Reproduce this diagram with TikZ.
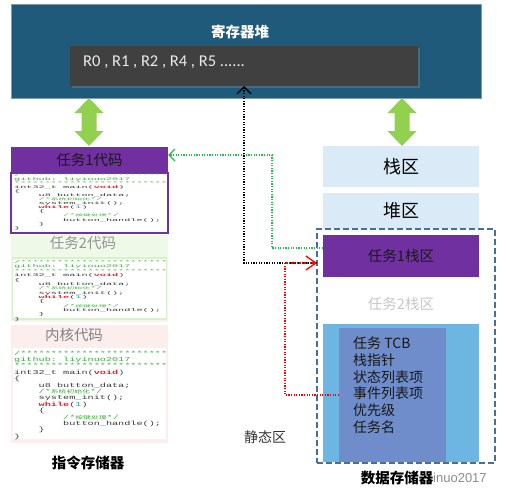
\documentclass[tikz,border=0pt]{standalone}
\usepackage{fontspec}
\usepackage{graphicx}
\setmainfont{Noto Sans CJK SC}
\newfontfamily\cjk{Noto Sans CJK SC}
\newfontfamily\latf{Carlito}
\newfontfamily\wmf{Liberation Sans}
\setmonofont{Liberation Mono}
\usetikzlibrary{arrows.meta,shadows,calc}
\definecolor{topblue}{HTML}{1F5A7A}
\definecolor{regbg}{HTML}{404040}
\definecolor{purp}{HTML}{7030A0}
\definecolor{lblue}{HTML}{DAEAF7}
\definecolor{stat}{HTML}{6DB6E2}
\definecolor{tcbc}{HTML}{6F8DCB}
\definecolor{dashc}{HTML}{44719C}
\definecolor{agreen}{HTML}{92D050}
\definecolor{gdotc}{HTML}{1FBF4A}
\definecolor{t2bg}{HTML}{EEF9E8}
\definecolor{t2bd}{HTML}{D8F0CC}
\definecolor{kbg}{HTML}{FDEEEE}
\definecolor{ccom}{HTML}{3DAA3A}
\definecolor{ckey}{HTML}{E8202A}
\definecolor{cnum}{HTML}{2A8FBF}
\definecolor{ctext}{HTML}{3A3A3A}
\newcommand\ind{\phantom{0000}}
\newcommand\cjksm{\cjk\fontsize{4.6}{6.4}\selectfont}
\newcommand\codefont{\fontsize{6}{6.4}\selectfont\ttfamily\color{ctext}}
\newcommand\codeblk{%
\begin{tabular}[t]{@{}l@{}}
\textcolor{ccom}{/************************}\\
\textcolor{ccom}{github: liyinuo2017}\\
\textcolor{ccom}{*************************}\\
int32\_t main(\textcolor{ckey}{\textbf{void}})\\
\{\\
\ind u8 button\_data;\\
\ind\textcolor{ccom}{/*{\cjksm 系统初始化}*/}\\
\ind system\_init();\\
\ind\textcolor{ckey}{\textbf{while}}(\textcolor{cnum}{1})\\
\ind\{\\
\ind\ind\textcolor{ccom}{/*{\cjksm 按键处理}*/}\\
\ind\ind button\_handle();\\
\ind\}\\
\}
\end{tabular}}
\tikzset{
  rbox/.style={inner sep=0pt, outer sep=0pt, minimum width=#1},
  lbl/.style={inner sep=0pt, font=\fontsize{14}{16}\selectfont},
  codeblock/.style={inner sep=0pt, anchor=base west},
  dotline/.style={line width=1.3pt, dash pattern=on 1.3pt off 1.3pt},
  gdot/.style={dotline, gdotc, -{Straight Barb[length=6pt,width=12pt,line width=1.3pt]}},
  kdot/.style={dotline, black, -{Straight Barb[length=7pt,width=14pt,line width=1.3pt]}},
  rdot/.style={dotline, red, -{Straight Barb[length=10pt,width=14pt,line width=1.3pt]}},
  dashbox/.style={draw=dashc, line width=1.8pt, dash pattern=on 6pt off 3pt},
  dblarrow/.pic={\fill[agreen] (0,0) -- (14.5,15) -- (7.5,15) -- (7.5,33) -- (14.5,33) -- (0,48) -- (-14.5,33) -- (-7.5,33) -- (-7.5,15) -- (-14.5,15) -- cycle;}
}
\begin{document}
\begin{tikzpicture}[x=1pt,y=-1pt]
\useasboundingbox (0,0) rectangle (506,495);
\fill[white] (0,0) rectangle (506,495);
% register file
\node[rbox=470pt, minimum height=94pt, fill=topblue, draw=topblue!60!white, line width=0.6pt] (top) at (246,51) {};
\node[lbl, text=white, font=\fontsize{14.5}{16}\selectfont\bfseries] (title) at (240,32) {寄存器堆};
\node[rbox=348pt, minimum height=40pt, fill=regbg, drop shadow={shadow xshift=2pt, shadow yshift=-2pt, opacity=0.45}] (reg) at (244,66) {};
\node[inner sep=0pt, anchor=west, text=white!92!black, font=\latf\fontsize{16.5}{18}\selectfont] (regtxt) at (83,62) {R0 , R1 , R2 , R4 , R5 ......};
% green double arrows
\pic at (89,98) {dblarrow};
\pic at (402,98) {dblarrow};
% task 1 code
\node[rbox=157pt, minimum height=60pt, fill=white, draw=purp, line width=2pt] (t1b) at (89.5,203) {};
\node[rbox=157pt, minimum height=26pt, fill=purp, text=black!90, font=\fontsize{14.5}{16}\selectfont] (t1h) at (89.5,160) {任务1代码};
\node[codeblock] (t1c) at (14,176) {\scalebox{1.7}[0.64]{\codefont\codeblk}};
% task 2 code
\node[rbox=157pt, minimum height=87pt, fill=t2bg] (t2) at (89.5,278.5) {};
\node[rbox=154pt, minimum height=61pt, fill=white, draw=t2bd, line width=1.2pt] (t2b) at (89.5,288.5) {};
\node[lbl, text=black!42, font=\fontsize{14.5}{16}\selectfont] (t2h) at (83,243) {任务2代码};
\node[codeblock] (t2c) at (14,263.6) {\scalebox{1.7}[0.68]{\codefont\codeblk}};
% kernel code
\node[rbox=157pt, minimum height=118pt, fill=kbg] (kn) at (89.5,384) {};
\node[rbox=153pt, minimum height=91pt, fill=white] (knb) at (89.5,393.5) {};
\node[lbl, text=black!50, font=\fontsize{14.5}{16}\selectfont] (knh) at (74,335) {内核代码};
\node[codeblock] (knc) at (14,355) {\scalebox{1.7}[1]{\codefont\codeblk}};
\node[lbl, font=\fontsize{14.5}{16}\selectfont\bfseries] (imem) at (88,463) {指令存储器};
% data memory
\node[rbox=156pt, minimum height=41pt, fill=lblue, font=\fontsize{18}{20}\selectfont] (s0) at (401,166.5) {栈区};
\node[rbox=156pt, minimum height=36pt, fill=lblue, font=\fontsize{18}{20}\selectfont] (hp) at (401,211) {堆区};
\node[rbox=156pt, minimum height=42pt, fill=purp, text=black!90, font=\fontsize{14.5}{16}\selectfont] (s1) at (401,256) {任务1栈区};
\node[lbl, text=black!22, font=\fontsize{14.5}{16}\selectfont] (s2) at (401,304) {任务2栈区};
\node[rbox=156pt, minimum height=138pt, fill=stat] (st) at (401,393) {};
\node[rbox=107pt, minimum height=134pt, fill=tcbc] (tcb) at (392.5,395) {};
\foreach \t [count=\i] in {任务 TCB, 栈指针, 状态列表项, 事件列表项, 优先级, 任务名}
  \node[lbl, anchor=base west, text=black!90] (tcbl\i) at (353,{348.5+16.8*(\i-1)}) {\t};
\node[lbl, text=black!80] (stl) at (265,437) {静态区};
\node[rbox=178pt, minimum height=234pt, dashbox] (dyn) at (406,346) {};
\node[lbl, font=\fontsize{14.5}{16}\selectfont\bfseries] (dmem) at (397,478) {数据存储器};
\node[inner sep=0pt, anchor=west, text=black!45, font=\wmf\fontsize{13}{14}\selectfont] (wm) at (433,478) {inuo2017};
% connectors
\coordinate (tip) at ($(s1.west -| dyn.west)+(0,7)$);
\coordinate (gbend) at (272,155);
\draw[gdot] ([yshift=8pt]s1.west) -| (gbend) -- (t1h.east |- gbend);
\draw[kdot] (tip) -| (reg.south);
\draw[rdot] (tcb.west) -- ++(-54,0) |- (tip);
\end{tikzpicture}
\end{document}
